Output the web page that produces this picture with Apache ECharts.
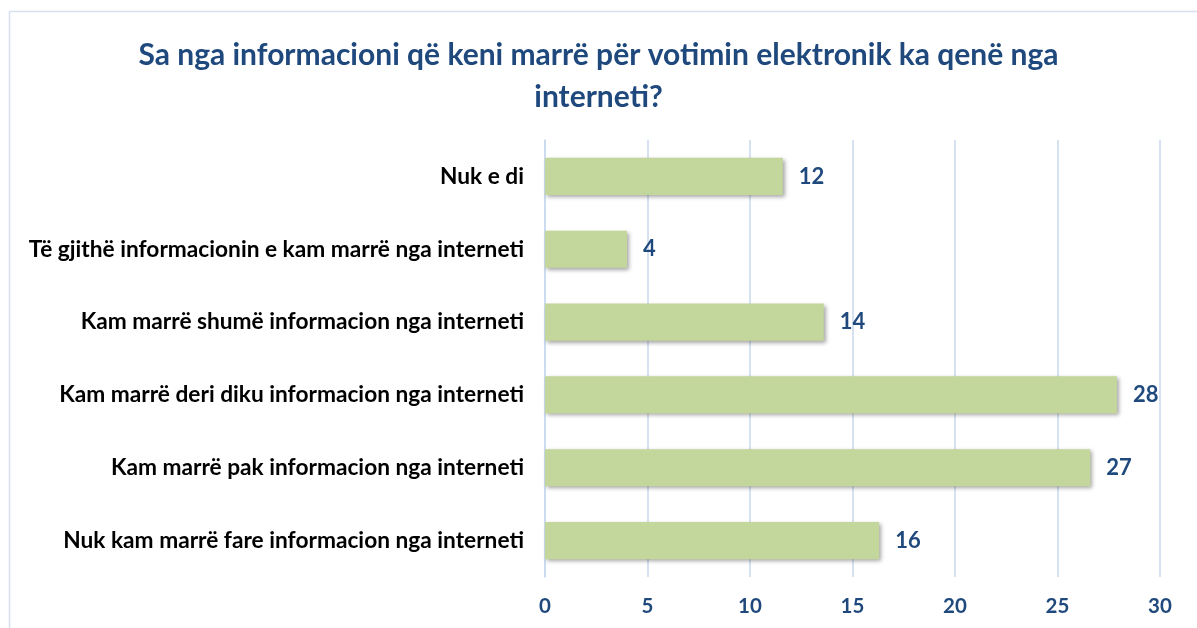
<!DOCTYPE html>
<html>
<head>
<meta charset="utf-8">
<script src="https://cdn.jsdelivr.net/npm/echarts@6/dist/echarts.min.js"></script>
<style>
html,body{margin:0;padding:0;background:#fff;}
#chart{width:1197px;height:628px;}
</style>
</head>
<body>
<div id="chart"></div>
<script>
const titleLines = ["Sa nga informacioni që keni marrë për votimin elektronik ka qenë nga", "interneti?"];
const categories = [
  "Nuk e di",
  "Të gjithë informacionin e kam marrë nga interneti",
  "Kam marrë shumë informacion nga interneti",
  "Kam marrë deri diku informacion nga interneti",
  "Kam marrë pak informacion nga interneti",
  "Nuk kam marrë fare informacion nga interneti"
];
const values = [11.6, 4.0, 13.6, 27.9, 26.6, 16.3];
const xTicks = [0, 5, 10, 15, 20, 25, 30];

const FONT = 'Lato';
const BLUE = '#1F497D';
const chart = echarts.init(document.getElementById('chart'));
chart.setOption({
  backgroundColor: '#ffffff',
  animation: false,
  graphic: [{
    type: 'rect', left: 7, top: 9,
    shape: { width: 1200, height: 630 },
    style: { fill: 'none', stroke: '#D6E0EE', lineWidth: 1.5 },
    silent: true, z: -1
  }],
  title: {
    text: titleLines.join('\n'),
    left: 'center', top: 29,
    padding: [5, 0, 5, 10],
    textStyle: { fontFamily: FONT, fontWeight: 'bold', fontSize: 30, color: BLUE, lineHeight: 42 }
  },
  grid: { left: 545, right: 37, top: 140, bottom: 51, containLabel: false },
  xAxis: {
    type: 'value', min: xTicks[0], max: xTicks[xTicks.length - 1], interval: 5,
    axisLine: { show: false }, axisTick: { show: false },
    splitLine: { show: true, lineStyle: { color: '#C9D9EE', width: 1.5 } },
    axisLabel: { margin: 19, fontFamily: FONT, fontWeight: 'bold', fontSize: 20.5, color: BLUE }
  },
  yAxis: {
    type: 'category', data: categories, inverse: true,
    axisLine: { show: true, lineStyle: { color: '#C9D9EE', width: 1.5 } },
    axisTick: { show: false },
    axisLabel: { margin: 21, fontFamily: FONT, fontWeight: 'bold', fontSize: 22.7, color: '#000000' }
  },
  series: [{
    type: 'bar', data: values, barWidth: '51%',
    itemStyle: {
      color: '#C3D69B',
      shadowColor: 'rgba(0,0,0,0.35)', shadowBlur: 4, shadowOffsetX: 2, shadowOffsetY: 2
    },
    label: {
      show: true, position: 'right', distance: 16,
      formatter: p => Math.round(p.value),
      fontFamily: FONT, fontWeight: 'bold', fontSize: 22, color: BLUE
    }
  }]
});
</script>
</body>
</html>
